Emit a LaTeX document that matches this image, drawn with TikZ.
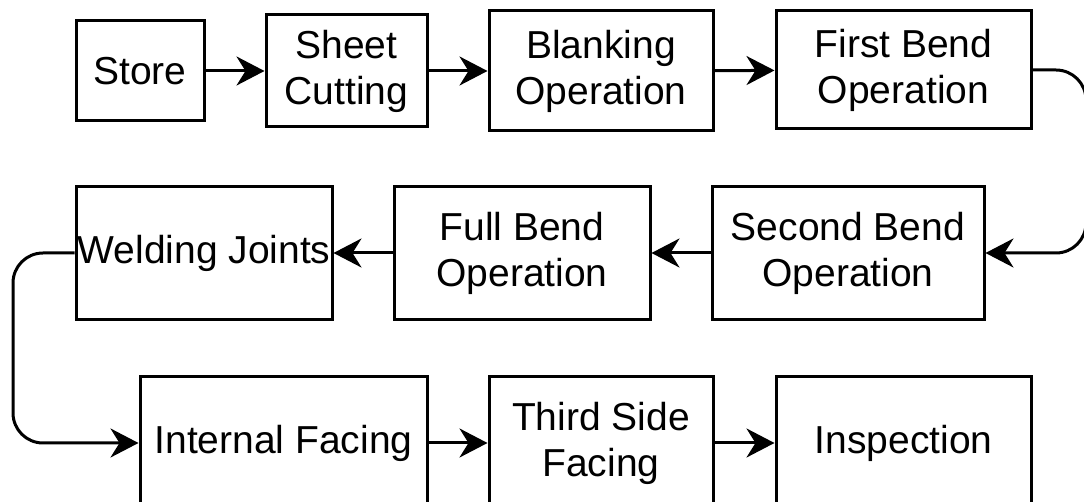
\documentclass[tikz,border=0pt]{standalone}
\usepackage{fontspec}
\setmainfont{Liberation Sans}
\usetikzlibrary{arrows.meta}
\tikzset{
	stage/.style={draw, line width=1.5pt, align=center, inner sep=0pt, font=\fontsize{19.5}{23}\selectfont},
	flow/.style={line width=1.5pt, rounded corners=15pt, -{Stealth[length=14pt,width=14.5pt,inset=4.5pt]}},
}
\begin{document}
\begin{tikzpicture}[x=0.5pt, y=-0.5pt]
			%%%%% START %%%%%
			\useasboundingbox (0, 0) rectangle (1084, 502);
			
			% first row
			\node[stage, minimum width=64pt, minimum height=50pt] (store) at (140, 71) {Store};
			\node[stage, minimum width=80.5pt, minimum height=56pt] (cutting) at (346.5, 71) {Sheet\\Cutting};
			\node[stage, minimum width=112pt, minimum height=60pt] (blanking) at (601, 71) {Blanking\\Operation};
			\node[stage, minimum width=127.5pt, minimum height=59pt] (firstbend) at (903.5, 70) {First Bend\\Operation};
			
			% second row
			\node[stage, minimum width=136pt, minimum height=66.5pt] (secondbend) at (848, 253) {Second Bend\\Operation};
			\node[stage, minimum width=128pt, minimum height=66.5pt] (fullbend) at (522, 253) {Full Bend\\Operation};
			\node[stage, minimum width=128pt, minimum height=66.5pt] (welding) at (204, 253) {Welding Joints};
			
			% third row
			\node[stage, minimum width=143.5pt, minimum height=66pt] (internal) at (283.5, 443) {Internal Facing};
			\node[stage, minimum width=112pt, minimum height=66pt] (thirdside) at (601, 443) {Third Side\\Facing};
			\node[stage, minimum width=127.5pt, minimum height=66pt] (inspection) at (903.5, 443) {Inspection};
			
			\coordinate (rightturn) at (1086, 160);
			\coordinate (leftturn) at (13, 345);
			
			\draw[flow] (store) -- (cutting);
			\draw[flow] (cutting) -- (blanking);
			\draw[flow] (blanking) -- (firstbend);
			\draw[flow] (firstbend.east) -| (rightturn) |- (secondbend.east);
			\draw[flow] (secondbend) -- (fullbend);
			\draw[flow] (fullbend) -- (welding);
			\draw[flow] (welding.west) -| (leftturn) |- (internal.west);
			\draw[flow] (internal) -- (thirdside);
			\draw[flow] (thirdside) -- (inspection);
			
			%%%%% END %%%%%
\end{tikzpicture}
\end{document}
